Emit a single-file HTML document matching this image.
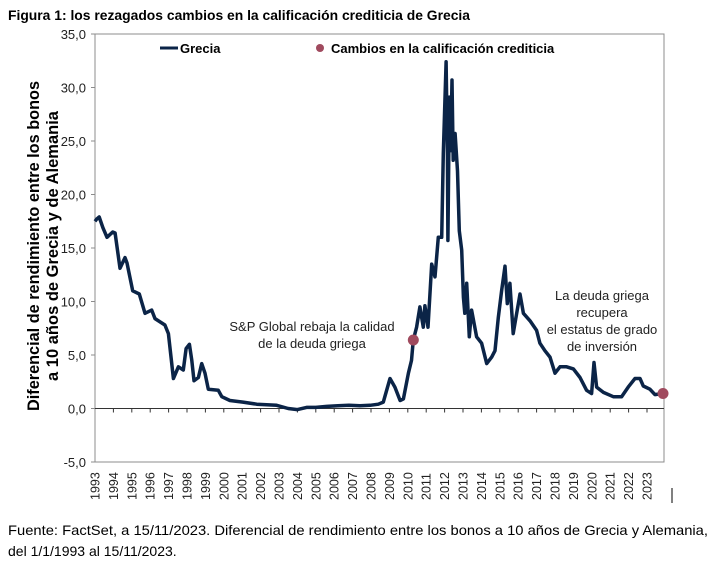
<!DOCTYPE html>
<html><head><meta charset="utf-8"><style>
body{margin:0;background:#fff;}
svg{display:block;font-family:"Liberation Sans",Arial,sans-serif;}
</style></head><body>
<svg id="chart" width="713" height="569" viewBox="0 0 713 569">
<text x="8" y="20" font-size="14" font-weight="bold" textLength="462" lengthAdjust="spacingAndGlyphs">Figura 1: los rezagados cambios en la calificación crediticia de Grecia</text>
<rect x="95" y="34" width="569" height="428" fill="none" stroke="#8c8c8c" stroke-width="1"/>
<g id="yaxis"></g>
<g id="xaxis"></g>
<g id="series"></g>
<g transform="translate(39,246) rotate(-90)">
<text x="0" y="0" text-anchor="middle" font-size="16.5" font-weight="bold" textLength="330" lengthAdjust="spacingAndGlyphs">Diferencial de rendimiento entre los bonos</text>
<text x="0" y="19" text-anchor="middle" font-size="16.5" font-weight="bold">a 10 años de Grecia y de Alemania</text>
</g>
<g>
<line x1="160" y1="48" x2="178" y2="48" stroke="#0b2447" stroke-width="3"/>
<text x="180" y="53" font-size="13" font-weight="bold">Grecia</text>
<circle cx="320" cy="48" r="4" fill="#a04a5e"/>
<text x="331" y="53" font-size="13" font-weight="bold">Cambios en la calificación crediticia</text>
</g>
<g font-size="13" text-anchor="middle" fill="#222">
<text x="312" y="331">S&amp;P Global rebaja la calidad</text>
<text x="312" y="348">de la deuda griega</text>
</g>
<g font-size="13" text-anchor="middle" fill="#222">
<text x="602" y="300">La deuda griega</text>
<text x="602" y="317">recupera</text>
<text x="602" y="334">el estatus de grado</text>
<text x="602" y="351">de inversión</text>
</g>
<line x1="672" y1="488" x2="672" y2="503" stroke="#000" stroke-width="1"/>
<text x="8" y="535" font-size="14" textLength="700" lengthAdjust="spacingAndGlyphs">Fuente: FactSet, a 15/11/2023. Diferencial de rendimiento entre los bonos a 10 años de Grecia y Alemania,</text>
<text x="8" y="556" font-size="14">del 1/1/1993 al 15/11/2023.</text>
</svg>
<script>
const yTicks = [35, 30, 25, 20, 15, 10, 5, 0, -5];
const yTickLabels = ["35,0","30,0","25,0","20,0","15,0","10,0","5,0","0,0","-5,0"];
const years = [1993,1994,1995,1996,1997,1998,1999,2000,2001,2002,2003,2004,2005,2006,2007,2008,2009,2010,2011,2012,2013,2014,2015,2016,2017,2018,2019,2020,2021,2022,2023];
const dates = [1993.0,1993.09,1993.23,1993.43,1993.65,1993.96,1994.09,1994.36,1994.63,1994.74,1995.05,1995.41,1995.72,1996.08,1996.26,1996.8,1996.99,1997.26,1997.53,1997.8,1997.95,1998.13,1998.26,1998.38,1998.62,1998.8,1998.98,1999.16,1999.7,1999.89,2000.33,2001.04,2001.79,2002.87,2003.5,2004.0,2004.5,2005.0,2005.6,2006.2,2006.8,2007.4,2007.95,2008.4,2008.67,2009.03,2009.3,2009.58,2009.76,2010.03,2010.2,2010.3,2010.48,2010.66,2010.84,2010.93,2011.1,2011.3,2011.48,2011.66,2011.84,2011.93,2012.08,2012.15,2012.18,2012.26,2012.33,2012.4,2012.47,2012.57,2012.7,2012.8,2012.93,2013.02,2013.1,2013.2,2013.34,2013.47,2013.74,2014.01,2014.29,2014.56,2014.74,2014.92,2015.1,2015.28,2015.41,2015.55,2015.73,2016.1,2016.28,2016.64,2017.0,2017.18,2017.45,2017.73,2018.0,2018.27,2018.63,2019.0,2019.36,2019.72,2019.99,2020.12,2020.26,2020.63,2021.17,2021.62,2021.98,2022.35,2022.62,2022.8,2023.16,2023.43,2023.87];
const spread = [17.5,17.7,17.9,16.9,16.0,16.5,16.4,13.1,14.1,13.6,11.0,10.7,8.9,9.2,8.4,7.8,7.0,2.8,3.9,3.6,5.6,6.0,4.5,2.6,2.9,4.2,3.3,1.8,1.7,1.1,0.75,0.6,0.4,0.3,0.0,-0.1,0.1,0.1,0.2,0.25,0.3,0.25,0.3,0.4,0.6,2.8,2.0,0.75,0.9,3.3,4.5,6.4,7.6,9.5,7.6,9.6,7.6,13.5,12.3,16.0,16.0,23.8,32.4,24.1,15.7,29.1,24.1,30.7,23.2,25.7,22.2,16.6,14.8,10.4,8.9,11.7,6.7,9.2,6.7,6.1,4.2,4.8,5.4,8.5,11.0,13.3,9.8,11.7,7.0,10.7,8.9,8.2,7.3,6.1,5.4,4.8,3.3,3.9,3.9,3.7,2.9,1.7,1.4,4.3,2.0,1.5,1.1,1.1,2.0,2.8,2.8,2.1,1.8,1.3,1.4];
const ratingDates = [2010.3, 2023.87];
const ratingValues = [6.4, 1.4];

const NS = "http://www.w3.org/2000/svg";
const x = d => 95 + (d - 1993) * 18.4;
const y = v => 408.5 - v * 10.7;
function mk(tag, attrs, parent){const e=document.createElementNS(NS,tag);for(const k in attrs)e.setAttribute(k,attrs[k]);parent.appendChild(e);return e;}

const ya = document.getElementById('yaxis');
yTicks.forEach((t,i)=>{
  const tk = mk('line',{x1:91,x2:95,y1:y(t),y2:y(t),stroke:'#8c8c8c'},ya);
  
  
  const lb = mk('text',{x:86,y:y(t)+5,'text-anchor':'end','font-size':13,fill:'#222'},ya);
  lb.textContent = yTickLabels[i];
  
  
});
const xa = document.getElementById('xaxis');
const zl = mk('line',{x1:95,x2:664,y1:y(0),y2:y(0),stroke:'#333','stroke-width':1},xa);


years.forEach(yr=>{
  if(yr>1993){
    const tk = mk('line',{x1:x(yr),x2:x(yr),y1:y(0),y2:y(0)+4,stroke:'#333'},xa);
    
    
  }
  const lb = mk('text',{transform:`translate(${x(yr)+4.5},500) rotate(-90)`,'font-size':12.5,fill:'#222'},xa);
  lb.textContent = yr;
  
  
});
const s = document.getElementById('series');
const pts = dates.map((d,i)=>x(d).toFixed(1)+','+y(spread[i]).toFixed(1)).join(' ');
const pl = mk('polyline',{points:pts,fill:'none',stroke:'#0b2447','stroke-width':3.5,'stroke-linejoin':'round'},s);


ratingDates.forEach((d,i)=>{
  const c = mk('circle',{cx:x(d),cy:y(ratingValues[i]),r:5.5,fill:'#a04a5e'},s);
  
  
});
</script>
</body></html>
